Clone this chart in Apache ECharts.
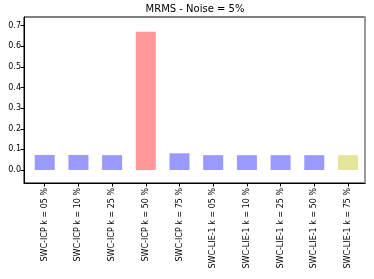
<!DOCTYPE html>
<html lang="en">

<head>
    <meta charset="UTF-8">
    <title>MRMS</title>
    <script src="https://cdn.jsdelivr.net/npm/echarts@6/dist/echarts.min.js"></script>
    <style>
        * {
            margin: 0;
            padding: 0;
        }

        #main {
            width: 374px;
            height: 279px;
        }
    </style>
</head>

<body>
    <div id="main"></div>
    <script>
        const categories = [
            'SWC-ICP k = 05 %', 'SWC-ICP k = 10 %', 'SWC-ICP k = 25 %', 'SWC-ICP k = 50 %', 'SWC-ICP k = 75 %',
            'SWC-LIE-1 k = 05 %', 'SWC-LIE-1 k = 10 %', 'SWC-LIE-1 k = 25 %', 'SWC-LIE-1 k = 50 %', 'SWC-LIE-1 k = 75 %'
        ];
        const values = [0.073, 0.073, 0.072, 0.671, 0.081, 0.072, 0.072, 0.072, 0.072, 0.072];
        const barColors = ['#9999ff', '#9999ff', '#9999ff', '#ff9999', '#9999ff',
            '#9999ff', '#9999ff', '#9999ff', '#9999ff', '#e5e599'];
        const yTicks = [0, 0.1, 0.2, 0.3, 0.4, 0.5, 0.6, 0.7];
        const xTicks = categories.map((c, i) => i);

        var myChart = echarts.init(document.getElementById('main'));
        const font = 'DejaVu Sans';

        option = {
            backgroundColor: '#fff',
            animation: false,
            title: {
                text: 'MRMS - Noise = 5%',
                left: 195,
                top: 4,
                padding: 0,
                textAlign: 'center',
                textStyle: { fontFamily: font, fontSize: 10, fontWeight: 'normal', color: '#000' }
            },
            grid: {
                left: 24, right: 9, top: 17, bottom: 96,
                show: true, borderColor: '#000', borderWidth: 1
            },
            xAxis: {
                type: 'value',
                min: -0.615, max: 9.505,
                splitLine: { show: false },
                axisLine: { show: true, onZero: false, lineStyle: { color: '#000' } },
                axisTick: { show: true, length: 3.5, customValues: xTicks, lineStyle: { color: '#000' } },
                axisLabel: {
                    customValues: xTicks,
                    rotate: 90,
                    margin: 5,
                    fontFamily: font, fontSize: 8, color: '#000',
                    formatter: v => categories[v]
                }
            },
            yAxis: [{
                type: 'value',
                min: -0.063, max: 0.742,
                splitLine: { show: false },
                axisLine: { show: true, onZero: false, lineStyle: { color: '#000' } },
                axisTick: { show: true, length: 3.5, customValues: yTicks, lineStyle: { color: '#000' } },
                axisLabel: {
                    customValues: yTicks,
                    margin: 3,
                    fontFamily: font, fontSize: 8, color: '#000',
                    formatter: v => v.toFixed(1)
                }
            }, {
                type: 'value',
                position: 'right',
                min: -0.063, max: 0.742,
                splitLine: { show: false },
                axisTick: { show: false },
                axisLabel: { show: false },
                axisLine: { show: true, onZero: false, lineStyle: { color: '#999', width: 2 } }
            }],
            series: [{
                type: 'bar',
                barWidth: 20,
                data: values.map((v, i) => ({
                    value: [i, v],
                    itemStyle: { color: barColors[i] }
                }))
            }]
        };
        myChart.setOption(option);
    </script>
</body>

</html>
